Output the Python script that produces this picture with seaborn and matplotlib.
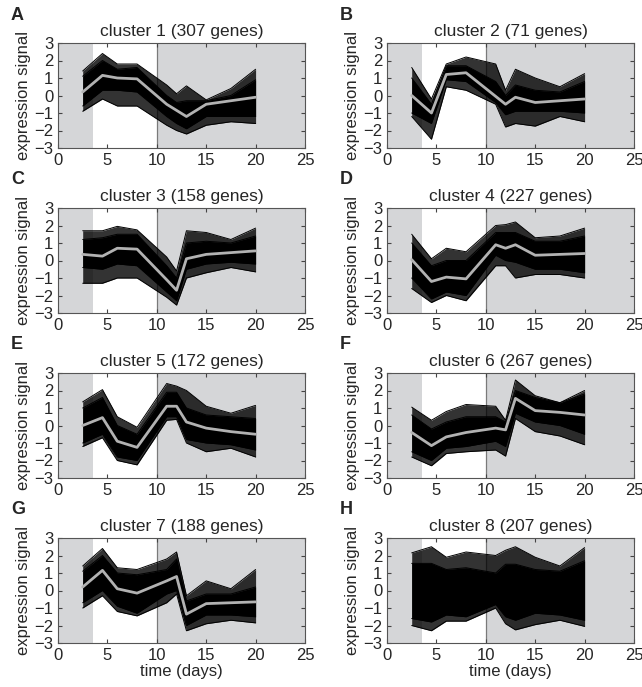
import pandas as pd
import matplotlib
matplotlib.use("Agg")
import matplotlib.pyplot as plt
import seaborn as sns

# -------------------
# Data
# -------------------
TIMES = [2.5, 4.5, 6, 8, 11, 12, 13, 15, 17.5, 20]
LETTERS = ["A", "B", "C", "D", "E", "F", "G", "H"]
GENE_COUNTS = [307, 71, 158, 227, 172, 267, 188, 207]

# gray mean profile per cluster (cluster 8 has none drawn)
MEAN = [
    [0.2, 1.15, 1.0, 0.95, -0.5, -0.85, -1.2, -0.5, -0.3, -0.1],
    [0.0, -1.0, 1.2, 1.3, -0.05, -0.5, -0.1, -0.4, -0.3, -0.2],
    [0.35, 0.25, 0.7, 0.65, -1.1, -1.7, 0.1, 0.35, 0.45, 0.55],
    [0.05, -1.2, -0.95, -1.05, 0.9, 0.7, 0.9, 0.3, 0.35, 0.4],
    [0.0, 0.45, -0.9, -1.25, 1.1, 1.1, 0.2, -0.15, -0.35, -0.5],
    [-0.4, -1.15, -0.65, -0.4, -0.15, -0.25, 1.55, 0.85, 0.75, 0.6],
    [0.2, 1.15, 0.1, -0.15, 0.55, 0.8, -1.35, -0.75, -0.7, -0.65],
    None,
]

# outer envelope of all gene traces
OUTER_HI = [
    [1.4, 2.4, 1.8, 1.8, 0.6, 0.1, 0.55, -0.25, 0.4, 1.5],
    [1.6, -0.2, 1.8, 2.2, 1.8, 0.3, 1.5, 1.0, 0.5, 1.25],
    [1.7, 1.7, 1.95, 1.75, 0.2, -0.6, 1.7, 1.6, 1.2, 1.85],
    [1.5, 0.1, 0.7, 0.5, 2.0, 2.05, 2.2, 1.3, 1.4, 1.85],
    [1.35, 2.05, 0.5, -0.1, 2.4, 2.25, 2.0, 1.1, 0.7, 1.15],
    [1.05, 0.3, 0.8, 1.2, 1.1, 0.3, 2.6, 1.7, 1.3, 2.0],
    [1.4, 2.4, 1.3, 1.2, 1.8, 2.2, -0.3, 0.55, 0.1, 1.2],
    [2.15, 2.5, 1.9, 2.2, 2.0, 2.3, 2.5, 1.9, 1.4, 2.45],
]
OUTER_LO = [
    [-0.9, -0.2, -0.6, -0.6, -1.7, -2.0, -2.2, -1.7, -1.5, -1.6],
    [-1.2, -2.5, 0.5, 0.3, -0.5, -1.8, -1.6, -1.75, -1.2, -1.5],
    [-1.3, -1.3, -1.0, -1.0, -2.1, -2.55, -1.0, -0.7, -0.4, -0.65],
    [-1.6, -2.4, -2.0, -2.3, -0.3, -0.3, -1.0, -0.8, -0.8, -1.0],
    [-1.2, -0.7, -2.0, -2.25, 0.3, 0.35, -1.0, -1.5, -1.3, -1.8],
    [-1.8, -2.3, -1.6, -1.5, -1.4, -1.75, 0.4, -0.35, -0.6, -1.1],
    [-1.0, -0.3, -1.2, -1.45, -0.7, -0.2, -2.3, -1.9, -1.7, -1.85],
    [-2.0, -2.3, -1.75, -1.75, -1.0, -1.9, -2.25, -1.95, -1.7, -2.05],
]

# dense core where the traces merge into solid black
CORE_HI = [
    [1.1, 2.0, 1.5, 1.6, 0.0, -0.4, -0.3, -0.3, 0.0, 0.9],
    [1.0, -0.5, 1.7, 1.7, 0.8, 0.0, 0.6, 0.3, 0.2, 0.8],
    [1.2, 1.3, 1.5, 1.5, -0.3, -1.0, 1.0, 1.1, 1.0, 1.4],
    [1.0, -0.3, 0.0, 0.0, 1.6, 1.6, 1.6, 1.1, 1.1, 1.4],
    [1.0, 1.6, 0.0, -0.5, 1.9, 1.9, 1.0, 0.6, 0.5, 0.4],
    [0.6, -0.2, 0.2, 0.5, 0.5, 0.2, 2.0, 1.6, 1.3, 1.8],
    [1.1, 2.0, 1.0, 0.9, 1.2, 1.8, -0.6, -0.2, -0.2, 0.2],
    [1.55, 1.55, 1.2, 1.3, 1.0, 1.5, 1.5, 1.2, 1.1, 1.7],
]
CORE_LO = [
    [-0.6, 0.3, 0.3, 0.2, -1.2, -1.6, -1.9, -1.2, -1.2, -1.2],
    [-1.0, -1.6, 0.9, 0.8, -0.4, -1.1, -0.9, -0.9, -0.9, -1.0],
    [-0.4, -0.5, -0.2, -0.3, -1.8, -2.3, -0.5, -0.2, -0.1, -0.2],
    [-1.0, -2.2, -1.8, -2.0, 0.3, 0.0, -0.1, -0.5, -0.5, -0.7],
    [-1.0, -0.5, -1.8, -2.0, 0.5, 0.5, -0.8, -1.0, -1.1, -1.4],
    [-1.5, -2.0, -1.3, -1.2, -0.9, -1.2, 0.7, 0.2, 0.0, -0.5],
    [-0.7, 0.0, -0.9, -1.3, -0.2, 0.0, -2.0, -1.4, -1.4, -1.5],
    [-1.6, -1.8, -1.4, -1.5, -0.8, -1.5, -1.7, -1.3, -1.4, -1.7],
]

SHADE = "#d5d6d8"
MEAN_COLOR = "#b2b2b2"

sns.set_style("ticks")
plt.rcParams["font.family"] = ["Liberation Sans", "DejaVu Sans"]
plt.rcParams["xtick.direction"] = "in"
plt.rcParams["ytick.direction"] = "in"


# -------------------
# One cluster panel
# -------------------
def draw_panel(ax, i):
    ax.axvspan(0, 3.5, color=SHADE, lw=0, zorder=0)
    ax.axvspan(10, 25, color=SHADE, lw=0, zorder=0)
    ax.axvline(10, color="#7a7a7a", lw=0.9, zorder=0.5)

    ax.fill_between(TIMES, OUTER_LO[i], OUTER_HI[i], color="black", alpha=0.8, lw=0, zorder=1)
    ax.fill_between(TIMES, CORE_LO[i], CORE_HI[i], color="black", lw=0, zorder=2)
    for edge in (OUTER_HI[i], OUTER_LO[i], CORE_HI[i], CORE_LO[i]):
        ax.plot(TIMES, edge, color="black", lw=0.7, zorder=2)

    if MEAN[i] is not None:
        df = pd.DataFrame({"time": TIMES, "signal": MEAN[i]})
        sns.lineplot(data=df, x="time", y="signal", ax=ax, color=MEAN_COLOR, lw=2.0, zorder=3)

    ax.set_xlim(0, 25)
    ax.set_ylim(-3, 3)
    ax.set_xticks(range(0, 26, 5))
    ax.set_yticks(range(-3, 4))
    ax.tick_params(labelsize=12, length=3, top=True, right=True, color="#444444")
    for s in ax.spines.values():
        s.set_visible(True)
        s.set_color("#555555")
        s.set_linewidth(0.8)
    ax.set_title(f"cluster {i + 1} ({GENE_COUNTS[i]} genes)", fontsize=12.5, pad=5)
    ax.set_ylabel("expression signal", fontsize=12, labelpad=2)
    ax.set_xlabel("time (days)" if i >= 6 else "", fontsize=12, labelpad=1)


W, H = 642, 687
fig = plt.figure(figsize=(W / 100, H / 100), dpi=100)
lefts = [58, 387]
tops = [43, 208, 373, 538]
for i in range(8):
    col, row = i % 2, i // 2
    ax = fig.add_axes([lefts[col] / W, 1 - (tops[row] + 105) / H, 247 / W, 105 / H])
    draw_panel(ax, i)
    fig.text((lefts[col] - 47) / W, 1 - (tops[row] - 28) / H, LETTERS[i],
             fontsize=13, fontweight="bold", va="center", ha="left")

fig.savefig("out.png", dpi=100)
